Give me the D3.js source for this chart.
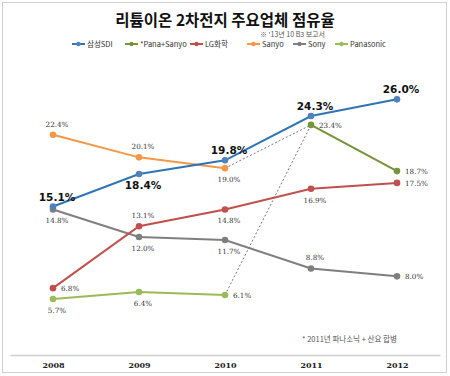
<!DOCTYPE html>
<html>
<head>
<meta charset="utf-8">
<script src="https://cdn.jsdelivr.net/npm/d3@7"></script>
<style>
  body { margin: 0; background: #fff; }
  svg { display: block; font-family: "Noto Sans CJK KR", "DejaVu Sans", sans-serif; }
</style>
</head>
<body>
<svg id="chart" width="450" height="376"></svg>
<script>
const years = ["2008", "2009", "2010", "2011", "2012"];

const samsungSDI = [15.1, 18.4, 19.8, 24.3, 26.0];
const panaSanyo = [null, null, null, 23.4, 18.7];
const lgChem = [6.8, 13.1, 14.8, 16.9, 17.5];
const sanyo = [22.4, 20.1, 19.0, null, null];
const sony = [14.8, 12.0, 11.7, 8.8, 8.0];
const panasonic = [5.7, 6.4, 6.1, null, null];

// label placement per point: a=above, b=below, r=right
const series = [
    { name: "삼성SDI", values: samsungSDI, color: "#2e75b6", marker: "#4f81bd", big: true, pos: ["a", "b", "a", "a", "a"] },
    { name: "*Pana+Sanyo", values: panaSanyo, color: "#77933c", marker: "#77933c", pos: [null, null, null, "r", "r"] },
    { name: "LG화학", values: lgChem, color: "#c0504d", marker: "#c0504d", pos: ["r", "a", "b", "b", "r"] },
    { name: "Sanyo", values: sanyo, color: "#f79646", marker: "#f79646", pos: ["a", "a", "b"] },
    { name: "Sony", values: sony, color: "#7f7f7f", marker: "#7f7f7f", pos: ["b", "b", "b", "a", "r"] },
    { name: "Panasonic", values: panasonic, color: "#9bbb59", marker: "#9bbb59", pos: ["b", "b", "r"] }
];

const svg = d3.select("#chart");

svg.append("rect")
    .attr("x", 2.5).attr("y", 2.5)
    .attr("width", 444).attr("height", 370)
    .attr("fill", "#fff")
    .attr("stroke", "#d0d0d0");

const x = d3.scalePoint().domain(years).range([10, 440]).padding(0.5);
const y = d3.scaleLinear().domain([0, 30]).range([355, 60]);

// title
svg.append("text")
    .attr("x", 225).attr("y", 26)
    .attr("text-anchor", "middle")
    .attr("font-size", 15.5).attr("font-weight", "bold")
    .attr("fill", "#111")
    .text("리튬이온 2차전지 주요업체 점유율");

svg.append("text")
    .attr("x", 260).attr("y", 37)
    .attr("font-size", 7)
    .attr("fill", "#555")
    .text("※ '13년 10 B3 보고서");

// legend
const legendX = [72, 125, 190, 247, 293, 335];
const legend = svg.append("g").selectAll("g")
    .data(series)
    .join("g")
    .attr("transform", (d, i) => `translate(${legendX[i]},44)`);
legend.append("line")
    .attr("x1", 0).attr("x2", 13)
    .attr("stroke", d => d.color).attr("stroke-width", 2);
legend.append("circle")
    .attr("cx", 6.5).attr("r", 2.2).attr("fill", d => d.marker);
legend.append("text")
    .attr("x", 15).attr("dy", "0.35em")
    .attr("font-size", 7.5)
    .attr("fill", "#333")
    .text(d => d.name);

// x axis
const xAxis = svg.append("g")
    .attr("transform", "translate(0,355)")
    .call(d3.axisBottom(x).tickSize(0).tickPadding(7));
xAxis.select(".domain").attr("stroke", "#d0d0d0").attr("stroke-width", 1.5);
xAxis.selectAll("text")
    .attr("font-size", 8).attr("font-weight", "bold")
    .attr("font-family", "'DejaVu Serif', serif")
    .attr("fill", "#222");

// dotted merger connectors
const mergeTarget = [x("2011"), y(panaSanyo[3])];
[sanyo[2], panasonic[2]].forEach(v => {
    svg.append("line")
        .attr("x1", x("2010")).attr("y1", y(v))
        .attr("x2", mergeTarget[0]).attr("y2", mergeTarget[1])
        .attr("stroke", "#555").attr("stroke-width", 0.8)
        .attr("stroke-dasharray", "2,2");
});

const line = d3.line()
    .defined(d => d.v != null)
    .x(d => x(d.year))
    .y(d => y(d.v));

// draw in an order so Samsung sits on top
const drawOrder = [5, 4, 2, 1, 3, 0];
drawOrder.forEach(i => {
    const s = series[i];
    const pts = years.map((year, j) => ({ year, v: s.values[j], pos: s.pos[j] }));
    const g = svg.append("g");
    g.append("path")
        .datum(pts)
        .attr("d", line)
        .attr("fill", "none")
        .attr("stroke", s.color)
        .attr("stroke-width", 2);
    g.selectAll("circle")
        .data(pts.filter(d => d.v != null))
        .join("circle")
        .attr("cx", d => x(d.year))
        .attr("cy", d => y(d.v))
        .attr("r", 3.3)
        .attr("fill", s.marker);
});

// data labels
series.forEach(s => {
    const pts = years.map((year, j) => ({ year, v: s.values[j], pos: s.pos[j] }))
        .filter(d => d.v != null);
    svg.append("g").selectAll("text")
        .data(pts)
        .join("text")
        .attr("x", d => x(d.year) + (d.pos === "r" ? 8 : 4))
        .attr("y", d => {
            const py = y(d.v);
            if (d.pos === "a") return py - (s.big ? 6 : 8);
            if (d.pos === "b") return py + (s.big ? 15 : 14);
            return py + 3;
        })
        .attr("text-anchor", d => d.pos === "r" ? "start" : "middle")
        .attr("font-size", s.big ? 10.5 : 7.2)
        .attr("font-weight", s.big ? "bold" : "normal")
        .attr("font-family", s.big ? "'DejaVu Sans', sans-serif" : "'DejaVu Serif', serif")
        .attr("fill", s.big ? "#111" : "#333")
        .text(d => d.v.toFixed(1) + "%");
});

svg.append("text")
    .attr("x", 302).attr("y", 342)
    .attr("font-size", 7.5)
    .attr("fill", "#555")
    .text("* 2011년 파나소닉 + 산요 합병");
</script>
</body>
</html>
